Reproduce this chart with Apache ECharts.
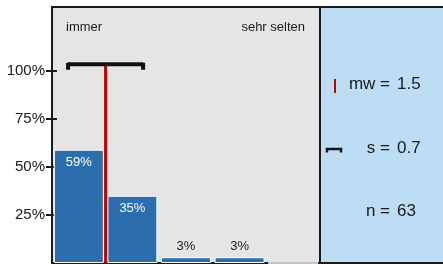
<!DOCTYPE html>
<html>
<head>
<meta charset="utf-8">
<script src="https://cdn.jsdelivr.net/npm/echarts@6/dist/echarts.min.js"></script>
<style>
  html, body { margin: 0; padding: 0; background: #fff; }
  #chart { width: 443px; height: 264px; }
</style>
</head>
<body>
<div id="chart"></div>
<script>
// answer options 1..5, share of answers in %
const positions = [1, 2, 3, 4, 5];
const shares = [59, 35, 3, 3, 0];
const yTicks = [25, 50, 75, 100];
const scaleEnds = ["immer", "sehr selten"];

// summary stats
const mw = 1.5;
const sd = 0.7;
const n = 63;
const statLabels = ["mw =", "s =", "n ="];
const statValues = ["1.5", "0.7", "63"];

const bracketY = 103.5;
const font = "'Liberation Sans', Arial, sans-serif";

const chartDom = document.getElementById("chart");
const myChart = echarts.init(chartDom);

const barData = positions.map((p, i) => {
  const v = shares[i];
  const big = v >= 10;
  return {
    value: [p, v],
    label: {
      show: v > 0,
      position: big ? "insideTop" : "top",
      distance: big ? 6 : 4,
      color: big ? "#ffffff" : "#222222",
    },
  };
});

const statY = [84, 148, 211];
const graphics = [
  {
    type: "rect",
    z: -1,
    shape: { x: 319, y: 7, width: 125, height: 256 },
    style: { fill: "#BDDDF5", stroke: "#1a1a1a", lineWidth: 2 },
  },
  {
    type: "text",
    left: 66,
    top: 21,
    style: { text: scaleEnds[0], font: "13px " + font, fill: "#1a1a1a" },
  },
  {
    type: "text",
    right: 443 - 305,
    top: 21,
    style: { text: scaleEnds[1], font: "13px " + font, fill: "#1a1a1a" },
  },
  {
    type: "line",
    shape: { x1: 335, y1: 79, x2: 335, y2: 93 },
    style: { stroke: "#C00000", lineWidth: 2 },
  },
  {
    type: "polyline",
    shape: { points: [[327, 152.5], [327, 149], [341, 149], [341, 152.5]] },
    style: { stroke: "#111", lineWidth: 2.5, fill: null },
  },
];
statLabels.forEach((t, i) => {
  graphics.push({
    type: "text",
    x: 390,
    y: statY[i],
    style: {
      text: t, font: "17px " + font, fill: "#1a1a1a",
      textAlign: "right", textVerticalAlign: "middle",
    },
  });
  graphics.push({
    type: "text",
    x: 397,
    y: statY[i],
    style: {
      text: statValues[i], font: "17px " + font, fill: "#1a1a1a",
      textAlign: "left", textVerticalAlign: "middle",
    },
  });
});

const option = {
  animation: false,
  textStyle: { fontFamily: font },
  grid: {
    left: 52,
    right: 123,
    top: 7,
    bottom: 1,
    show: true,
    backgroundColor: "#E5E5E5",
    borderColor: "#1a1a1a",
    borderWidth: 2,
  },
  xAxis: {
    type: "value",
    min: 0.5,
    max: 5.5,
    axisLine: { show: false },
    axisTick: { show: false },
    axisLabel: { show: false },
    splitLine: { show: false },
  },
  yAxis: [
    {
      type: "value",
      min: 0,
      max: 133.33,
      axisLine: { show: true, lineStyle: { color: "#1a1a1a", width: 2 } },
      axisTick: {
        show: true,
        length: 6,
        customValues: yTicks,
        lineStyle: { color: "#1a1a1a", width: 2 },
      },
      axisLabel: {
        customValues: yTicks,
        formatter: "{value}%",
        fontSize: 15,
        color: "#1a1a1a",
        margin: 7,
      },
      splitLine: { show: false },
    },
    {
      type: "value",
      min: 0,
      max: 133.33,
      position: "left",
      axisLine: { show: false },
      axisTick: {
        show: true,
        inside: true,
        length: 5,
        customValues: yTicks,
        lineStyle: { color: "#1a1a1a", width: 2 },
      },
      axisLabel: { show: false },
      splitLine: { show: false },
    },
  ],
  series: [
    {
      type: "bar",
      data: barData,
      barWidth: 50,
      itemStyle: { color: "#2C6DAE", borderColor: "#ffffff", borderWidth: 1 },
      label: { fontSize: 13, formatter: (p) => p.value[1] + "%" },
      z: 2,
    },
    {
      type: "line",
      data: [[mw, 0], [mw, bracketY]],
      symbol: "none",
      lineStyle: { color: "#C00000", width: 3 },
      z: 3,
    },
    {
      type: "line",
      data: [[mw - sd, bracketY], [mw + sd, bracketY]],
      symbol: "rect",
      symbolSize: [4, 7],
      symbolOffset: [0, 2],
      itemStyle: { color: "#111" },
      lineStyle: { color: "#111", width: 4 },
      z: 4,
    },
  ],
  graphic: graphics,
};

myChart.setOption(option);
</script>
</body>
</html>
